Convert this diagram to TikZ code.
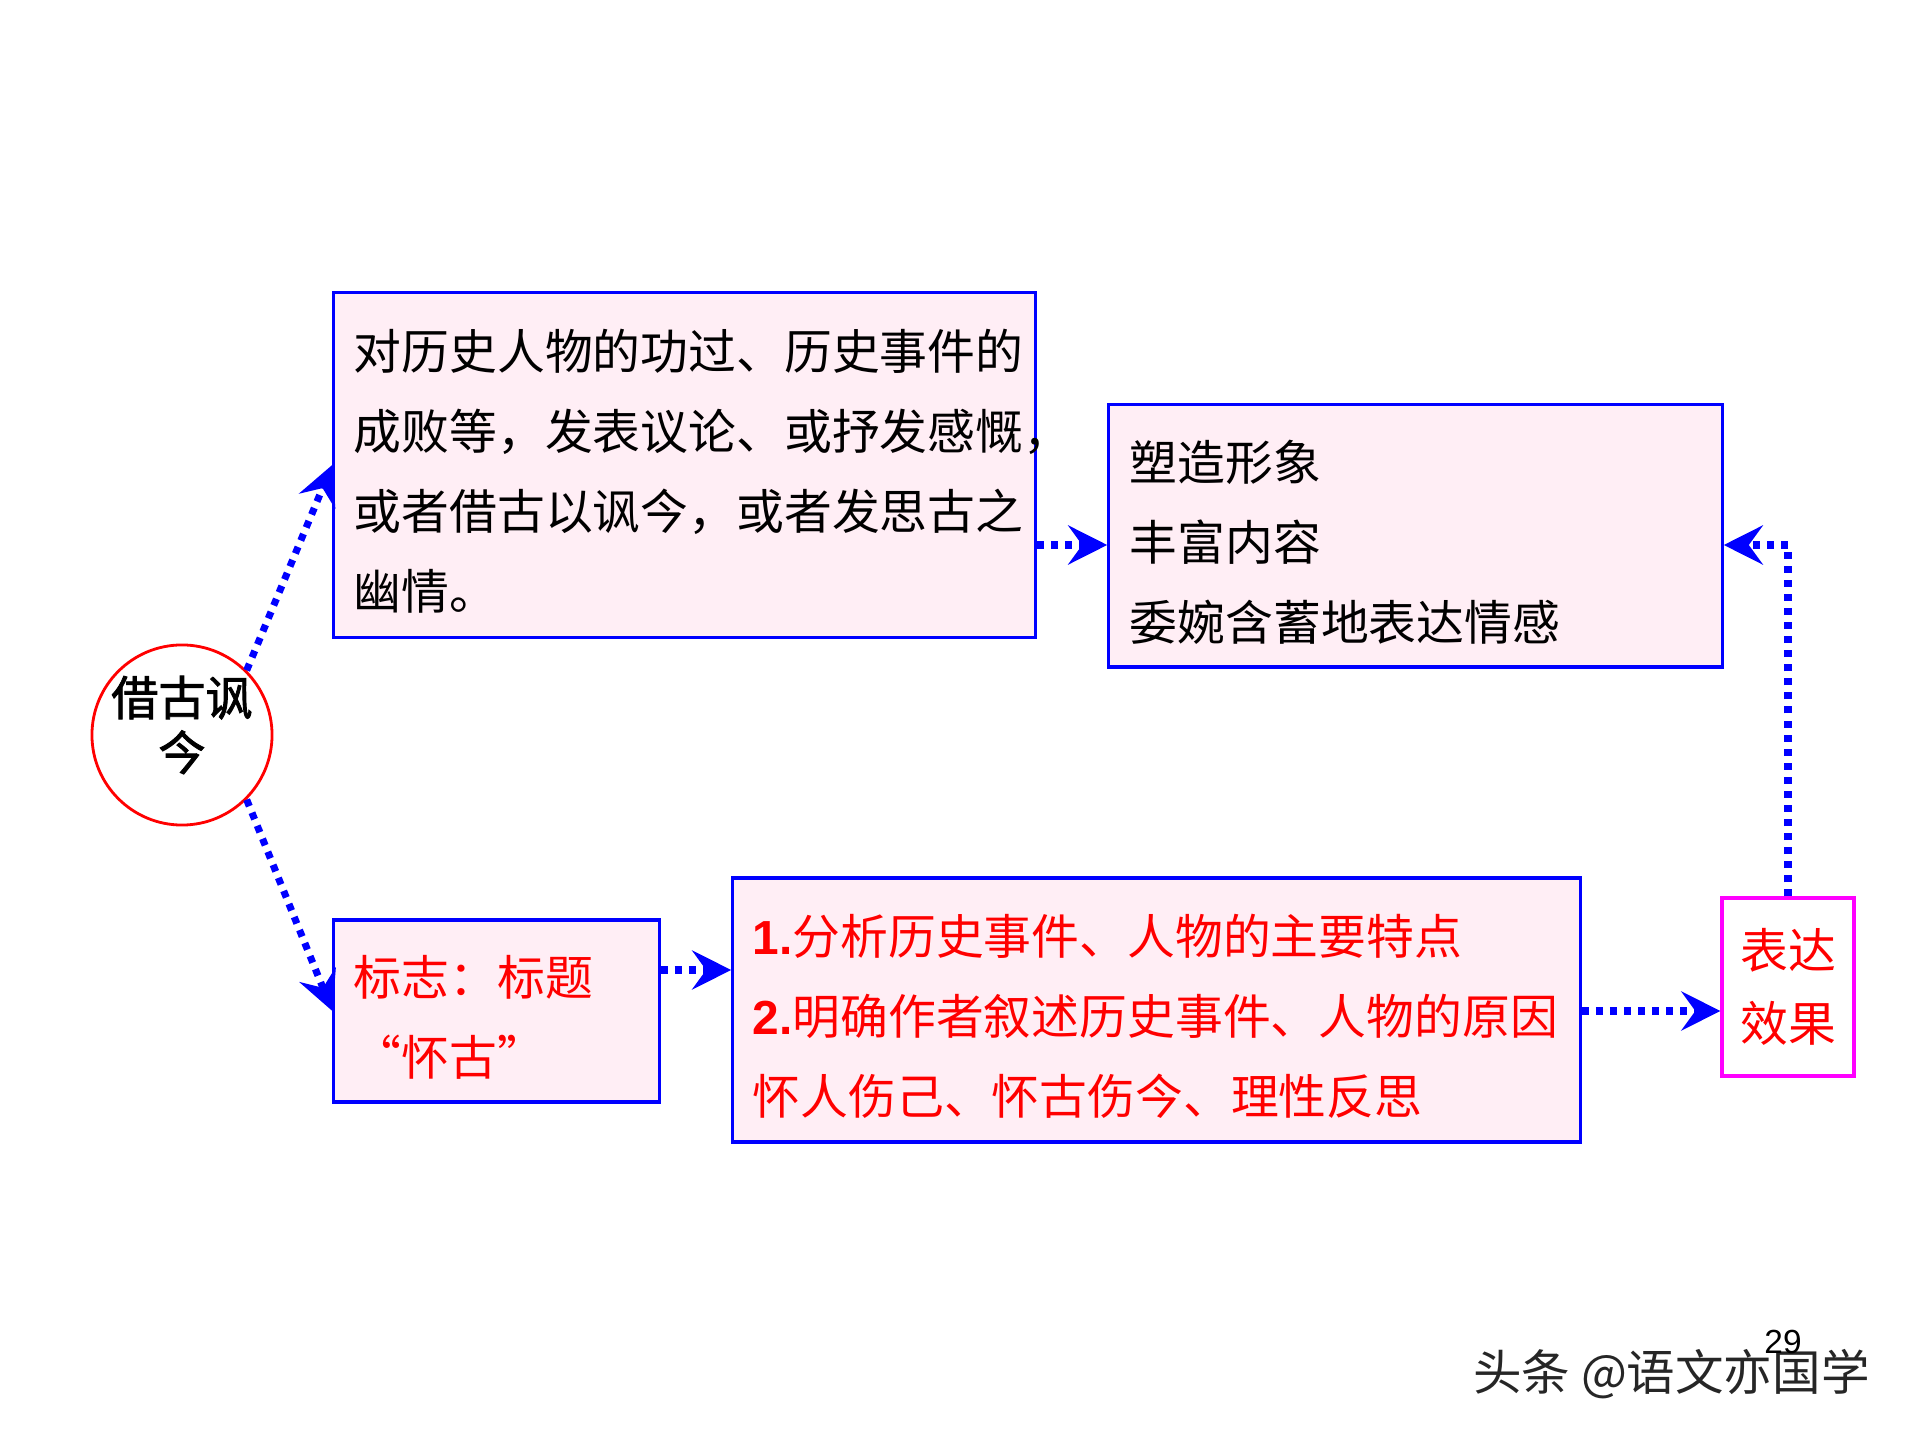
\documentclass[tikz,border=0pt]{standalone}
\usepackage{fontspec}
\setmainfont{Noto Sans CJK SC}
\newfontfamily\heifont[FakeBold=1.8]{Noto Sans CJK SC}
\newfontfamily\arialfont{Liberation Sans}
\usepackage{tikz}
\usetikzlibrary{positioning,calc,arrows.meta}
\definecolor{boxpink}{RGB}{255,238,245}
\definecolor{boxmagenta}{RGB}{255,0,255}

\begin{document}
\begin{tikzpicture}[x=0.01cm, y=-0.01cm,
    box/.style={draw=blue, line width=0.9pt, fill=boxpink, rectangle, align=left, inner xsep=0.2cm, inner ysep=0pt, font=\fontsize{13.6}{22.8}\selectfont, execute at begin node={\rule{0pt}{15pt}}},
    flow/.style={blue, line width=2pt, dash pattern=on 2pt off 2pt, -{Stealth[length=0.39cm, width=0.39cm, inset=0.14cm]}}]
    \useasboundingbox (0,0) rectangle (1920,1440);

    % topic circle
    \node[draw=red, line width=0.8pt, circle, minimum size=1.8cm, inner sep=0pt] (topic) at (182,735) {};
    \node[align=center, inner sep=0pt, font=\heifont\fontsize{13.4}{15.6}\selectfont] (topictext) at (182,725) {借古讽\\今};

    % upper row
    \node[box, minimum width=7.01cm, minimum height=3.44cm, text width=6.61cm] (comment) at (684.5,465) {对历史人物的功过、历史事件的\\成败等，发表议论、或抒发感慨，\\或者借古以讽今，或者发思古之\\幽情。};
    \node[box, minimum width=6.13cm, minimum height=2.62cm, text width=5.71cm] (effect) at (1415.5,536) {塑造形象\\丰富内容\\委婉含蓄地表达情感};

    % lower row
    \node[box, text=red, minimum width=3.25cm, minimum height=1.82cm, text width=2.85cm] (sign) at (496.5,1011) {标志：标题\\“怀古”};
    \node[box, text=red, minimum width=8.47cm, minimum height=2.64cm, text width=8.07cm] (method) at (1156.5,1010) {{\arialfont\bfseries 1.}分析历史事件、人物的主要特点\\{\arialfont\bfseries 2.}明确作者叙述历史事件、人物的原因\\怀人伤己、怀古伤今、理性反思};
    \node[draw=boxmagenta, line width=0.9pt, fill=white, text=red, align=center, minimum width=1.32cm, minimum height=1.78cm, inner sep=0pt, font=\fontsize{13.6}{20.8}\selectfont] (result) at (1788,987) {表达\\效果};

    % connectors
    \coordinate (upline) at (0,545);
    \coordinate (lowline) at (0,970);
    \coordinate (midline) at (0,1011);
    \draw[flow] (topic.45) -- (comment.west);
    \draw[flow] (topic.-45) -- (sign.west);
    \draw[flow] (comment.east |- upline) -- (effect.west |- upline);
    \draw[flow] (sign.east |- lowline) -- (method.west |- lowline);
    \draw[flow] (method.east |- midline) -- (result.west |- midline);
    \draw[flow] (result.north) |- (effect.east |- upline);

    % watermark and page number
    \node[font=\fontsize{13.8}{16}\selectfont, text=black!85, anchor=east] (mark) at (1882,1374) {头条 @语文亦国学};
    \node[font=\arialfont\fontsize{9.5}{11}\selectfont] (pagenum) at (1783,1342) {29};
\end{tikzpicture}
\end{document}
